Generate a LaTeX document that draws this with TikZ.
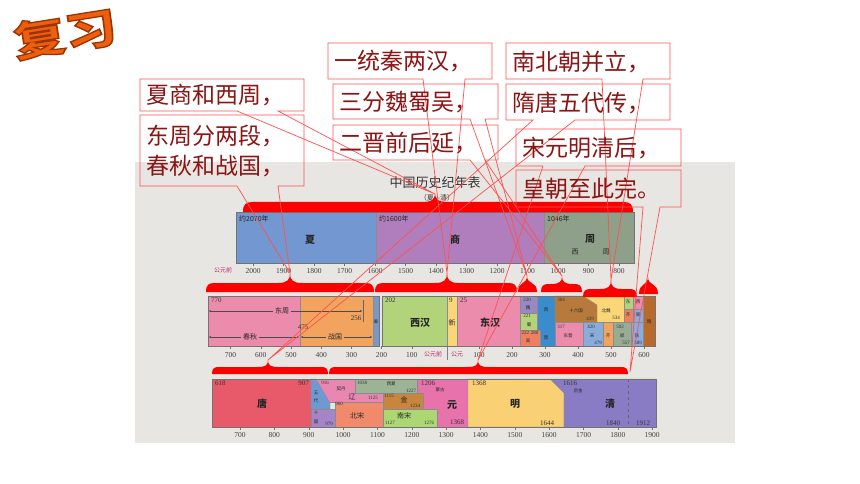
\documentclass[tikz,border=0pt]{standalone}
\usepackage{fontspec}
\setmainfont{Liberation Serif}
\newfontfamily\cjk{Noto Sans CJK SC}
\usetikzlibrary{arrows.meta}
\definecolor{calred}{RGB}{255,80,80}
\definecolor{txtred}{RGB}{140,20,20}
\definecolor{bracered}{RGB}{250,0,0}
\definecolor{panel}{RGB}{232,230,226}
\definecolor{magcol}{RGB}{190,40,110}
\definecolor{cxia}{RGB}{115,151,208}
\definecolor{cshang}{RGB}{176,126,188}
\definecolor{czhou}{RGB}{143,160,138}
\definecolor{cpink}{RGB}{235,140,172}
\definecolor{corange}{RGB}{242,164,94}
\definecolor{cqin}{RGB}{120,152,200}
\definecolor{cgreen}{RGB}{179,211,122}
\definecolor{cyellow}{RGB}{250,214,120}
\definecolor{cwei}{RGB}{154,136,196}
\definecolor{cwu}{RGB}{236,128,96}
\definecolor{cjin}{RGB}{58,140,204}
\definecolor{cbrown}{RGB}{182,122,60}
\definecolor{clblue}{RGB}{138,172,220}
\definecolor{cgray}{RGB}{152,172,148}
\definecolor{csui}{RGB}{184,106,42}
\definecolor{ctang}{RGB}{232,90,106}
\definecolor{cwudai}{RGB}{110,154,212}
\definecolor{cshiguo}{RGB}{166,132,200}
\definecolor{cliao}{RGB}{232,136,176}
\definecolor{cxixia}{RGB}{156,180,148}
\definecolor{cjinr}{RGB}{200,134,60}
\definecolor{cnansong}{RGB}{172,216,116}
\definecolor{cbeisong}{RGB}{240,138,106}
\definecolor{cyuan}{RGB}{232,114,172}
\definecolor{cming}{RGB}{250,208,116}
\definecolor{cqing}{RGB}{138,124,196}
\definecolor{logoor}{RGB}{235,95,15}
% brace: x1, x2, xpeak, ybottom, thickness, peak height
\newcommand\redbrace[6]{%
  \fill[bracered] (#1,#4) .. controls (#1,#4-0.8*#5) and (#1+0.3*#5,#4-#5) .. (#1+#5,#4-#5)
    -- (#3-#5-3,#4-#5) .. controls (#3-0.3*#5,#4-#5) and (#3,#4-#5-0.3*#6) .. (#3,#4-#5-#6)
    .. controls (#3,#4-#5-0.3*#6) and (#3+0.3*#5,#4-#5) .. (#3+#5+3,#4-#5)
    -- (#2-#5,#4-#5) .. controls (#2-0.3*#5,#4-#5) and (#2,#4-0.8*#5) .. (#2,#4) -- cycle;}
% small dome brace: x1, x2, xpeak, ybottom, height
\newcommand\domebrace[5]{%
  \fill[bracered] (#1,#4) .. controls (#1,#4-0.7*#5) and (#3,#4-0.45*#5) .. (#3,#4-#5)
    .. controls (#3,#4-0.45*#5) and (#2,#4-0.7*#5) .. (#2,#4) -- cycle;}
% callout: x1,y1,x2,y2, base a, base b, tip
\newcommand\calloutbox[7]{%
  \draw[callout] (#1,#2) -- (#3,#2) -- (#3,#4) -- (#6,#4) -- (#7) -- (#5,#4) -- (#1,#4) -- cycle;}
\begin{document}
\begin{tikzpicture}[x=1pt,y=-1pt,
  callout/.style={draw=calred,line width=0.7pt,line join=miter},
  ctext/.style={text=txtred,font=\cjk\fontsize{23}{30}\selectfont,anchor=west,inner sep=0pt,align=left},
  cl/.style={font=\cjk\fontsize{7}{8}\selectfont,inner sep=0pt,text=black!85},
  cb/.style={font=\cjk\bfseries\fontsize{10}{11}\selectfont,inner sep=0pt,text=black!85},
  ct/.style={font=\cjk\fontsize{4.5}{5}\selectfont,inner sep=0pt,text=black!85},
  nm/.style={font=\fontsize{7}{8}\selectfont,inner sep=0pt,text=black!80},
  ns/.style={font=\fontsize{5}{6}\selectfont,inner sep=0pt,text=black!80},
  ax/.style={font=\fontsize{7.5}{8}\selectfont,inner sep=0pt,text=black!75},
  mag/.style={font=\cjk\fontsize{6}{7}\selectfont,inner sep=0pt,text=magcol},
  blk/.style={draw=black!45,line width=0.3pt},
  frame/.style={draw=black!55,line width=0.6pt},
  tick/.style={draw=black!55,line width=0.4pt},
  arr/.style={draw=black!70,line width=0.3pt,{Stealth[length=2pt,width=2pt]}-{Stealth[length=2pt,width=2pt]}}]

\useasboundingbox (0,0) rectangle (860,484);
\fill[white] (0,0) rectangle (860,484);
\fill[panel] (135,162) rectangle (735,443);

% ---------- logo: orange text with dark outline ----------
\node[font=\cjk\bfseries\fontsize{52}{52}\selectfont,text=logoor,rotate=9,yscale=0.8,inner sep=0] (logo) at (65,34)
  {\special{pdf:literal direct 2 Tr 1.6 w 0.62 0.2 0 RG}复习\special{pdf:literal direct 0 Tr}};

% ---------- title ----------
\node[font=\cjk\fontsize{13}{14}\selectfont,text=black!80,inner sep=0] (title) at (435,183) {中国历史纪年表};
\node[font=\cjk\fontsize{7}{8}\selectfont,text=black!80,inner sep=0] (subtitle) at (437,198) {（夏—清）};

% ---------- row 1 ----------
\fill[cxia,blk] (236,212) rectangle (376,263);
\fill[cshang,blk] (376,212) rectangle (544,263);
\fill[czhou,blk] (544,212) rectangle (634,263);
\draw[frame] (236,212) rectangle (634,263);
\node[cl,anchor=north west] (r1a) at (239,215) {约2070年};
\node[cb] (r1b) at (310,240) {夏};
\node[cl,anchor=north west] (r1c) at (379,215) {约1600年};
\node[cb] (r1d) at (455,240) {商};
\node[cl,anchor=north west] (r1e) at (547,215) {1046年};
\node[cb] (r1f) at (590,239) {周};
\node[cl] (r1g) at (575,252) {西};
\node[cl] (r1h) at (606,252) {周};
\node[mag] (r1m) at (223,270) {公元前};
\foreach \yr in {2000,1900,...,800}{
  \pgfmathsetmacro\xx{375+(1600-\yr)*0.305}
  \draw[tick] (\xx,263) -- (\xx,266);
  \node[ax] (ra\yr) at (\xx,271) {\yr};
}

% ---------- row 2 ----------
\fill[cpink,blk] (208,296) rectangle (300,346);
\fill[corange,blk] (300,296) rectangle (373,346);
\fill[cqin,blk] (373,296) rectangle (379,346);
\fill[cgreen,blk] (382,296) rectangle (447,346);
\fill[cyellow,blk] (447,296) rectangle (457,346);
\fill[cpink,blk] (457,296) rectangle (520,346);
\fill[cjin,blk] (537,296) rectangle (555,346);
\fill[cwei,blk] (520,296) rectangle (537,313);
\fill[cgreen,blk] (520,313) rectangle (537,330);
\fill[cwu,blk] (520,330) rectangle (540,346);
\fill[cyellow,blk] (583,296) rectangle (624,322);
\fill[cbrown,blk] (555,296) -- (583,296) -- (597,305) -- (597,322) -- (555,322) -- cycle;
\fill[cpink,blk] (555,322) rectangle (583,346);
\fill[clblue,blk] (583,322) rectangle (603,346);
\fill[corange,blk] (603,322) rectangle (613,346);
\fill[cgray,blk] (613,322) rectangle (631,346);
\fill[clblue,blk] (631,322) rectangle (643,346);
\fill[cgreen,blk] (624,296) rectangle (633,309);
\fill[cpink,blk] (633,296) rectangle (643,309);
\fill[cwu,blk] (624,309) rectangle (633,322);
\fill[clblue,blk] (633,309) rectangle (643,322);
\fill[csui,blk] (643,296) rectangle (655,346);
\draw[frame] (208,296) rectangle (379,346);
\draw[frame] (382,296) rectangle (655,346);
\draw[black!60,line width=0.5pt] (363,300) -- (363,322);
\draw[arr] (209,311) -- (362,311);
\draw[arr] (209,337) -- (299,337);
\draw[arr] (301,337) -- (372,337);
\node[nm,anchor=north west] (r2a) at (211,298) {770};
\node[cl,fill=cpink,inner xsep=2pt] (r2b) at (282,311) {东周};
\node[nm] (r2c) at (356,318) {256};
\node[nm] (r2d) at (303,327) {475};
\node[cl,fill=cpink,inner xsep=2pt] (r2e) at (250,337) {春秋};
\node[cl,fill=corange,inner xsep=2pt] (r2f) at (335,337) {战国};
\node[ct] (r2g) at (376,322) {秦};
\node[nm,anchor=north west] (r2h) at (385,298) {202};
\node[cb] (r2i) at (420,323) {西汉};
\node[nm,anchor=north west] (r2j) at (449,298) {9};
\node[cl] (r2k) at (452,323) {新};
\node[nm,anchor=north west] (r2l) at (460,298) {25};
\node[cb] (r2m) at (490,323) {东汉};
\node[ns] (r2n) at (527,300) {220};
\node[ct] (r2o) at (528,308) {魏};
\node[ns] (r2p) at (527,316) {221};
\node[ct] (r2q) at (529,325) {蜀};
\node[ns] (r2r) at (530,333) {222\,\,280};
\node[ct] (r2s) at (528,341) {吴};
\node[ct] (r2t) at (546,310) {西};
\node[ct] (r2u) at (546,338) {晋};
\node[ns] (r2v) at (561,300) {304};
\node[ct] (r2w) at (576,311) {十六国};
\node[ns] (r2x) at (590,319) {439};
\node[ns] (r2y) at (561,327) {317};
\node[ct] (r2z) at (568,336) {东晋};
\node[ct] (r2aa) at (606,311) {北魏};
\node[ns] (r2ab) at (616,318) {534};
\node[ns] (r2ac) at (591,327) {420};
\node[ct] (r2ad) at (592,336) {宋};
\node[ns] (r2ae) at (598,343) {479};
\node[ct] (r2af) at (608,336) {齐};
\node[ns] (r2ag) at (620,327) {502};
\node[ct] (r2ah) at (622,336) {梁};
\node[ns] (r2ai) at (626,343) {557};
\node[ct] (r2aj) at (637,336) {陈};
\node[ns] (r2ak) at (638,343) {589};
\node[ct] (r2al) at (628,302) {东};
\node[ct] (r2am) at (638,302) {西};
\node[ct] (r2an) at (628,315) {齐};
\node[ct] (r2ao) at (638,315) {周};
\node[ct] (r2ap) at (649,322) {隋};
\foreach \yr in {700,600,...,100}{
  \pgfmathsetmacro\xx{442-0.302*\yr}
  \draw[tick] (\xx,346) -- (\xx,349);
  \node[ax] (rb\yr) at (\xx,355) {\yr};
}
\foreach \yr in {100,200,...,600}{
  \pgfmathsetmacro\xx{446+0.33*\yr}
  \draw[tick] (\xx,346) -- (\xx,349);
  \node[ax] (rc\yr) at (\xx,355) {\yr};
}
\node[mag] (r2m1) at (433,354) {公元前};
\draw[black!50,line width=0.4pt] (447,347) -- (447,360);
\node[mag] (r2m2) at (457,354) {公元};

% ---------- row 3 ----------
\fill[ctang,blk] (212,379) rectangle (311,427);
\fill[cliao,blk] (311,379) rectangle (383,402);
\fill[cwudai,blk] (311,379) -- (316,379) -- (330,403) -- (330,409) -- (311,409) -- cycle;
\fill[cshiguo,blk] (311,409) rectangle (335,427);
\fill[cbeisong,blk] (335,402) rectangle (383,427);
\fill[cxixia,blk] (355,379) rectangle (417,393);
\fill[cyuan,blk] (417,379) rectangle (468,427);
\fill[cjinr,blk] (383,393) rectangle (423,409);
\fill[cnansong,blk] (383,409) rectangle (437,427);
\fill[cming,blk] (468,379) -- (550,379) -- (564,393) -- (564,427) -- (468,427) -- cycle;
\fill[cqing,blk] (550,379) -- (656,379) -- (656,427) -- (564,427) -- (564,393) -- cycle;
\draw[black!60,dashed,line width=0.5pt] (628,379) -- (628,427);
\draw[frame] (212,379) rectangle (656,427);
\node[nm,anchor=north west] (r3a) at (215,381) {618};
\node[nm,anchor=north east] (r3b) at (309,381) {907};
\node[cb] (r3c) at (262,404) {唐};
\node[ns] (r3d) at (325,383) {916};
\node[ct] (r3e) at (316,393) {五};
\node[ct] (r3f) at (316,401) {代};
\node[ct] (r3g) at (316,413) {十};
\node[ct] (r3h) at (316,422) {国};
\node[ns] (r3i) at (329,424) {979};
\node[ct] (r3j) at (341,389) {契丹};
\node[cl] (r3k) at (352,397) {辽};
\node[ns] (r3l) at (373,398) {1125};
\node[ns] (r3m) at (339,404) {960};
\node[cl] (r3n) at (357,416) {北宋};
\node[ns] (r3o) at (362,383) {1038};
\node[ct] (r3p) at (391,384) {西夏};
\node[ns] (r3q) at (411,391) {1227};
\node[ns] (r3r) at (389,396) {1115};
\node[cl] (r3s) at (404,400) {金};
\node[ns] (r3t) at (415,406) {1234};
\node[cl] (r3u) at (404,416) {南宋};
\node[ns] (r3v) at (390,423) {1127};
\node[ns] (r3w) at (429,423) {1276};
\node[nm] (r3x) at (428,383) {1206};
\node[ct] (r3y) at (440,390) {蒙古};
\node[cb] (r3z) at (452,405) {元};
\node[nm] (r3aa) at (457,422) {1368};
\node[nm] (r3ab) at (479,383) {1368};
\node[cb] (r3ac) at (515,404) {明};
\node[nm] (r3ad) at (547,423) {1644};
\node[nm] (r3ae) at (570,383) {1616};
\node[ct] (r3af) at (578,391) {后金};
\node[cb] (r3ag) at (610,404) {清};
\node[nm] (r3ah) at (613,423) {1840};
\node[nm] (r3ai) at (643,423) {1912};
\foreach \yr in {700,800,...,1900}{
  \pgfmathsetmacro\xx{240+(\yr-700)*0.3435}
  \draw[tick] (\xx,427) -- (\xx,430);
  \node[ax] (rd\yr) at (\xx,435) {\yr};
}

% ---------- braces ----------
\redbrace{243}{633}{435}{212}{10}{9}
\redbrace{206}{374}{290}{292}{9}{10}
\redbrace{375}{517}{447}{292}{9}{10}
\domebrace{518}{537}{527}{292}{16}
\redbrace{541}{582}{562}{292}{8}{8}
\redbrace{583}{637}{611}{297}{8}{9}
\domebrace{639}{658}{648}{294}{17}
\redbrace{212}{328}{268}{374}{7}{7}
\redbrace{329}{628}{478}{374}{7}{7}

% ---------- tips ----------
\coordinate (tipXia) at (435,194);
\coordinate (tipDz) at (290,273);
\coordinate (tipQh) at (447,273);
\coordinate (tipSg) at (527,276);
\coordinate (tipJin) at (562,276);
\coordinate (tipNb) at (611,280);
\coordinate (tipTang) at (268,360);
\coordinate (tipSong) at (478,360);
\coordinate (tipEnd) at (630,372);

% ---------- callouts ----------
\calloutbox{140}{79}{304}{111}{237}{278}{tipXia}
\calloutbox{140}{115}{304}{186}{237}{278}{tipDz}
\calloutbox{328}{43}{492}{79}{423}{465}{tipQh}
\calloutbox{333}{84}{498}{119}{470}{485}{tipSg}
\calloutbox{333}{125}{498}{160}{470}{485}{tipJin}
\calloutbox{506}{43}{670}{79}{602}{643}{tipNb}
\calloutbox{506}{84}{670}{120}{533}{575}{tipTang}
\calloutbox{516}{129}{681}{166}{543}{585}{tipSong}
\calloutbox{516}{170}{681}{207}{643}{660}{tipEnd}

\node[ctext] (t1) at (146,95) {夏商和西周，};
\node[ctext] (t2) at (146,151) {东周分两段，\\春秋和战国，};
\node[ctext] (t3) at (334,61) {一统秦两汉，};
\node[ctext] (t4) at (339,102) {三分魏蜀吴，};
\node[ctext] (t5) at (339,143) {二晋前后延，};
\node[ctext] (t6) at (512,62) {南北朝并立，};
\node[ctext] (t7) at (512,103) {隋唐五代传，};
\node[ctext] (t8) at (522,148) {宋元明清后，};
\node[ctext] (t9) at (522,189) {皇朝至此完。};
\end{tikzpicture}
\end{document}
